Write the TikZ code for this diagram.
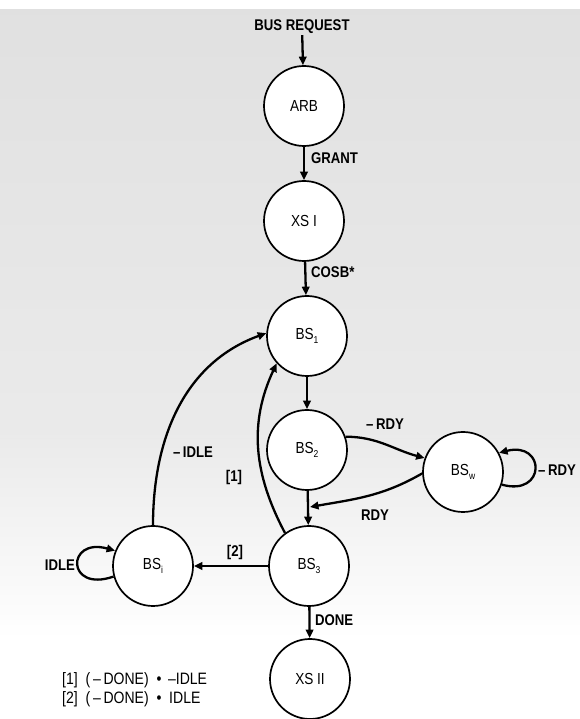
\documentclass[tikz,border=0pt]{standalone}
\usepackage{fontspec}
\setmainfont{Liberation Sans}[FakeStretch=0.85]
\usetikzlibrary{arrows.meta}
\newcommand\sbs[1]{\raisebox{-0.45ex}{\fontsize{10}{10}\selectfont #1}}
\begin{document}
\begin{tikzpicture}[x=1pt,y=1pt,
  state/.style={circle,draw,line width=1.7pt,fill=white,minimum size=80pt,inner sep=0pt,font=\fontsize{16}{18}\selectfont},
  lbl/.style={font=\bfseries\fontsize{15.5}{17}\selectfont,inner sep=1pt},
  legend/.style={font=\fontsize{16.5}{18}\selectfont,inner sep=0pt,anchor=west},
  edge/.style={line width=2.3pt,-{Triangle[length=8.5pt,width=7.5pt]}},
  plain/.style={line width=2.3pt}]
\useasboundingbox (0,0) rectangle (580,719);
% scanned paper tone
\fill[white] (0,0) rectangle (580,719);
\shade[top color=gray!24,bottom color=gray!16] (0,280) rectangle (580,709);
\shade[top color=gray!16,bottom color=white] (0,80) rectangle (580,280);
% states
\node[lbl] (req) at (302,692) {BUS REQUEST};
\node[state] (arb) at (304,613) {ARB};
\node[state] (xs1) at (304,498) {XS I};
\node[state] (bs1) at (307,383) {BS\sbs{1}};
\node[state] (bs2) at (307,269) {BS\sbs{2}};
\node[state] (bsw) at (463,247) {BS\sbs{w}};
\node[state] (bs3) at (309,153) {BS\sbs{3}};
\node[state] (bsi) at (153,153) {BS\sbs{i}};
\node[state] (xs2) at (310,40) {XS II};
\coordinate (m) at (310,212);
% connectors
\draw[edge] (req) -- (arb);
\draw[edge] (arb) -- (xs1);
\draw[edge] (xs1) -- (bs1);
\draw[edge] (bs1) -- (bs2);
\draw[edge] (bs2) -- (bs3);
\draw[edge] (bs3) -- (xs2);
\draw[edge] (bs3) -- (bsi);
\draw[edge] (bs2.19) to[out=0,in=165] (bsw.160);
\draw[edge] (bsw.182) to[out=210,in=10] (m);
\draw[edge] (bsw.-18) .. controls (546,222) and (546,278) .. (bsw.28);
\draw[edge] (bsi.195) .. controls (66,126) and (66,182) .. (bsi.158);
\draw[edge] (bsi.north) to[out=90,in=200] (bs1.176);
\draw[edge] (bs3.126) to[out=118,in=245] (bs1.222);
% labels
\node[lbl,anchor=west] (lgrant) at (310,561) {GRANT};
\node[lbl,anchor=west] (lcosb) at (310,447) {COSB*};
\node[lbl] (lnrdy) at (385,295) {–\,RDY};
\node[lbl] (lrdy) at (375,204) {RDY};
\node[lbl] (lnrdy2) at (557,249) {–\,RDY};
\node[lbl] (lnidle) at (193,267) {–\,IDLE};
\node[lbl] (l1) at (234,242) {[1]};
\node[lbl] (l2) at (235,167) {[2]};
\node[lbl] (lidle) at (60,154) {IDLE};
\node[lbl,anchor=west] (ldone) at (314,99) {DONE};
\node[legend] (leg1) at (62,39) {[1]\ \ (\,–\,DONE)\ \ •\ \,–IDLE};
\node[legend] (leg2) at (62,20) {[2]\ \ (\,–\,DONE)\ \ •\ \ IDLE};
\end{tikzpicture}
\end{document}
